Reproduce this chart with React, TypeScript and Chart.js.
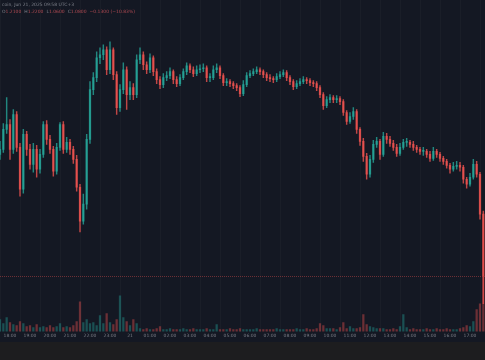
import React, { useEffect, useRef } from "react";
import { Chart, registerables } from "chart.js";
Chart.register(...registerables);

// Time axis: minutes relative to 18:00 on the first day
const hourTickMinutes = [0, 60, 120, 180, 240, 300, 360, 420, 480, 540, 600, 660, 720, 780, 840, 900, 960, 1020, 1080, 1140, 1200, 1260, 1320, 1380];
const hourTickLabels = ["18:00", "19:00", "20:00", "21:00", "22:00", "23:00", "21", "01:00", "02:00", "03:00", "04:00", "05:00", "06:00", "07:00", "08:00", "09:00", "10:00", "11:00", "12:00", "13:00", "14:00", "15:00", "16:00", "17:00"];
const firstCandleMinute = -30;
const candleMinutes = 10;

const firstOpen = 245;
const closes = [
  250, 270, 275, 250, 285, 252, 210, 265, 250, 235,
  250, 230, 245, 275, 260, 250, 228, 252, 275, 250,
  257, 250, 240, 212, 178, 195, 260, 310, 322, 342,
  345, 350, 330, 350, 325, 292, 310, 330, 305, 312,
  305, 340, 345, 335, 330, 342, 328, 320, 315, 322,
  324, 328, 320, 316, 322, 328, 334, 330, 326, 330,
  331, 332, 322, 322, 330, 332, 324, 317, 318, 316,
  314, 312, 306, 315, 324, 326, 328, 330, 328, 325,
  322, 321, 320, 323, 325, 327, 322, 318, 313, 316,
  318, 320, 319, 317, 316, 312, 305, 294, 300, 302,
  300, 301, 298, 287, 278, 283, 288, 270, 258, 243,
  225, 240, 255, 258, 245, 263, 260, 256, 252, 246,
  252, 257, 257, 255, 252, 250, 248, 248, 245, 241,
  248, 245, 241, 238, 234, 230, 233, 234, 232, 220,
  215, 222, 235, 225, 185, 123,
];
const highs = [
  258, 276, 302, 280, 290, 288, 256, 270, 268, 255,
  256, 254, 250, 278, 279, 264, 253, 256, 277, 278,
  262, 260, 253, 244, 215, 205, 265, 318, 327, 348,
  352, 355, 353, 358, 352, 328, 315, 337, 333, 318,
  316, 345, 352, 348, 338, 346, 344, 331, 323, 326,
  328, 332, 330, 323, 325, 331, 337, 336, 333, 334,
  335, 336, 334, 326, 334, 336, 334, 326, 321, 320,
  318, 316, 314, 319, 327, 329, 331, 333, 332, 330,
  327, 325, 323, 326, 328, 330, 329, 324, 320, 319,
  321, 323, 322, 321, 319, 318, 314, 307, 303, 305,
  304, 304, 303, 300, 289, 287, 292, 290, 272, 261,
  246, 244, 259, 262, 260, 267, 266, 263, 259, 255,
  256, 260, 261, 259, 258, 254, 252, 252, 250, 248,
  252, 250, 247, 243, 240, 236, 237, 238, 237, 234,
  222, 226, 240, 238, 227, 188,
];
const lows = [
  240, 247, 266, 240, 246, 248, 203, 206, 244, 230,
  227, 222, 226, 242, 255, 246, 223, 225, 249, 246,
  247, 245, 236, 208, 167, 175, 190, 256, 305, 318,
  336, 340, 325, 326, 320, 285, 288, 306, 290, 300,
  300, 302, 336, 330, 326, 327, 324, 316, 311, 312,
  319, 321, 316, 313, 314, 320, 325, 327, 323, 324,
  327, 328, 318, 318, 320, 327, 321, 314, 314, 313,
  311, 309, 303, 304, 313, 322, 324, 326, 325, 322,
  319, 318, 317, 318, 321, 323, 319, 315, 310, 311,
  314, 316, 316, 314, 313, 309, 302, 290, 292, 297,
  297, 297, 295, 284, 275, 276, 280, 266, 254, 238,
  220, 222, 237, 252, 240, 243, 256, 253, 249, 243,
  244, 250, 253, 252, 249, 247, 245, 244, 242, 238,
  239, 242, 238, 235, 231, 226, 228, 230, 228, 216,
  211, 213, 220, 222, 180, 95,
];
const volumes = [
  12, 8, 14, 9, 7, 6, 10, 8, 5, 6,
  4, 7, 4, 5, 4, 6, 4, 5, 8, 4,
  5, 4, 6, 10, 30, 9, 12, 8, 9, 6,
  16, 8, 18, 9, 7, 12, 36, 14, 10, 6,
  12, 8, 3, 2, 3, 2, 2, 3, 5, 2,
  2, 3, 2, 2, 2, 3, 2, 2, 3, 2,
  2, 2, 3, 2, 2, 7, 2, 2, 2, 3,
  2, 2, 3, 2, 2, 2, 2, 3, 2, 2,
  2, 2, 2, 3, 2, 2, 2, 2, 2, 3,
  2, 2, 3, 2, 2, 3, 8, 6, 3, 3,
  3, 2, 4, 9, 3, 5, 3, 3, 4, 17,
  7, 5, 4, 3, 3, 3, 2, 2, 3, 2,
  5, 17, 4, 2, 3, 2, 2, 2, 3, 2,
  2, 3, 2, 2, 3, 2, 2, 2, 3, 4,
  6, 5, 10, 22, 28, 55,
];

const headerTitle = "coin, Jun 21, 2025 09:58 UTC+3";
const headerParts: [string, string][] = [
  ["O", "1.2100"], ["H", "1.2200"], ["L", "1.0600"], ["C", "1.0800"], ["", "−0.1300 (−10.83%)"],
];

const UP = "rgba(38,166,154,0.78)";
const DOWN = "rgba(239,83,80,0.78)";
const BG = "#141823";
const FOOTER = "#1d1d1f";

export default function App() {
  const ref = useRef<HTMLCanvasElement | null>(null);
  useEffect(() => {
    document.body.style.margin = "0";
    document.body.style.background = BG;
    const canvas = ref.current;
    if (!canvas) return;
    const xs = closes.map((_, i) => firstCandleMinute + i * candleMinutes);
    const opens = closes.map((_, i) => (i === 0 ? firstOpen : closes[i - 1]));
    const isUp = closes.map((c, i) => c >= opens[i]);
    const candleColors = isUp.map((u) => (u ? UP : DOWN));
    const volColors = isUp.map((u) => (u ? "rgba(38,166,154,0.4)" : "rgba(239,83,80,0.4)"));
    const lastClose = closes[closes.length - 1];

    const bgPlugin = {
      id: "bg",
      beforeDraw(chart: any) {
        const { ctx, width, height } = chart;
        ctx.save();
        ctx.fillStyle = BG;
        ctx.fillRect(0, 0, width, height);
        ctx.fillStyle = FOOTER;
        ctx.fillRect(0, 342, width, height - 342);
        ctx.restore();
      },
      afterDatasetsDraw(chart: any) {
        const { ctx, chartArea } = chart;
        const y = chart.scales.y.getPixelForValue(lastClose);
        ctx.save();
        ctx.strokeStyle = "rgba(239,83,80,0.4)";
        ctx.lineWidth = 1;
        ctx.setLineDash([1, 1]);
        ctx.beginPath();
        ctx.moveTo(chartArea.left, Math.round(y) + 0.5);
        ctx.lineTo(chartArea.right, Math.round(y) + 0.5);
        ctx.stroke();
        ctx.restore();
      },
      afterDraw(chart: any) {
        const { ctx } = chart;
        ctx.save();
        ctx.font = "4.5px 'DejaVu Sans', sans-serif";
        ctx.textBaseline = "middle";
        ctx.fillStyle = "#7d808a";
        ctx.fillText(headerTitle, 2, 5);
        let x = 2;
        for (const [k, v] of headerParts) {
          if (k) {
            ctx.fillStyle = "#7d808a";
            ctx.fillText(k, x, 12);
            x += ctx.measureText(k).width;
          }
          ctx.fillStyle = "#b04a52";
          ctx.fillText(v, x, 12);
          x += ctx.measureText(v).width + 3;
        }
        ctx.restore();
      },
    };

    const chart = new Chart(canvas, {
      type: "bar",
      data: {
        datasets: [
          {
            label: "wicks",
            data: xs.map((x, i) => ({ x, y: [lows[i], highs[i]] })) as any,
            backgroundColor: candleColors,
            barThickness: 0.8,
            yAxisID: "y",
            grouped: false,
            order: 2,
          } as any,
          {
            label: "bodies",
            data: xs.map((x, i) => ({ x, y: [opens[i], closes[i]] })) as any,
            backgroundColor: candleColors,
            barThickness: 1.6,
            minBarLength: 1,
            yAxisID: "y",
            grouped: false,
            order: 1,
          } as any,
          {
            label: "volume",
            data: xs.map((x, i) => ({ x, y: volumes[i] })) as any,
            backgroundColor: volColors,
            barThickness: 1.6,
            yAxisID: "yv",
            grouped: false,
            order: 3,
          } as any,
        ],
      },
      options: {
        responsive: false,
        animation: false,
        devicePixelRatio: 1,
        layout: { padding: { top: 0, left: 0, right: 0, bottom: 19 } },
        plugins: { legend: { display: false }, tooltip: { enabled: false } },
        scales: {
          x: {
            type: "linear",
            min: -30,
            max: 1425,
            offset: false,
            grid: { color: "rgba(42,46,57,0.25)", drawTicks: false },
            border: { display: false },
            afterBuildTicks(axis: any) {
              axis.ticks = hourTickMinutes.map((v) => ({ value: v }));
            },
            ticks: {
              padding: 2,
              maxRotation: 0,
              autoSkip: false,
              color: "#7a7d86",
              font: { size: 4.5, family: "'DejaVu Sans', sans-serif" },
              callback: (v: any) => {
                const idx = hourTickMinutes.indexOf(Number(v));
                return idx >= 0 ? hourTickLabels[idx] : "";
              },
            },
          },
          y: { display: false, min: 67, max: 400 },
          yv: { display: false, min: 0, max: 333 },
        },
      } as any,
      plugins: [bgPlugin],
    });
    return () => chart.destroy();
  }, []);
  return <canvas ref={ref} width={485} height={360} style={{ display: "block", width: 485, height: 360 }} />;
}
